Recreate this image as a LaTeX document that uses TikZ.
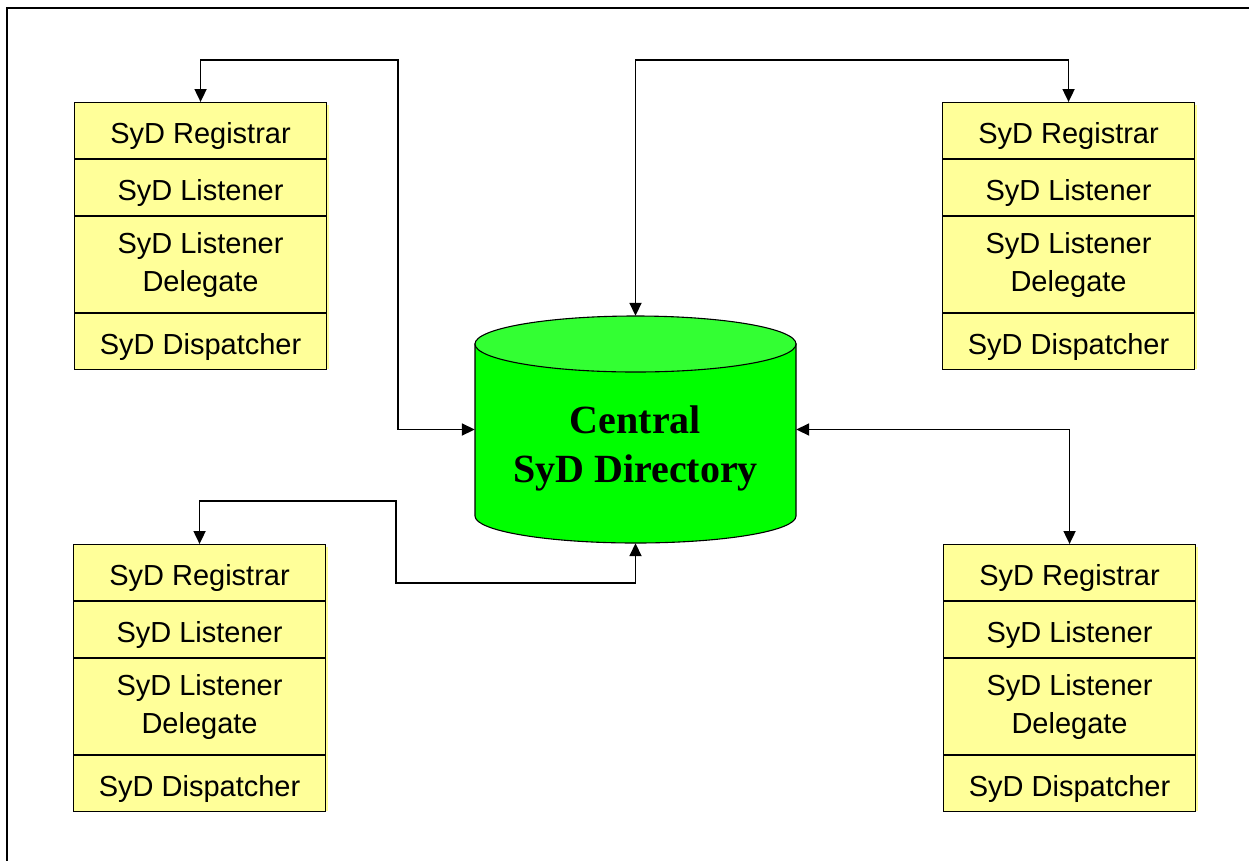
\documentclass[tikz,border=0pt]{standalone}
\usepackage{fontspec}
\setmainfont{Liberation Sans}
\newfontfamily\serifbold{Liberation Serif}
\usetikzlibrary{arrows.meta}
\definecolor{cellyellow}{HTML}{FFFF99}
\definecolor{dbside}{HTML}{00FF00}
\definecolor{dbtop}{HTML}{33FF33}
\tikzset{
  cell/.style={draw=black, line width=1.1pt, fill=cellyellow, minimum width=252pt,
    inner sep=0pt, align=center, font=\fontsize{29}{38}\selectfont},
  onecell/.style={cell, minimum height=56pt, text height=25pt, text depth=0pt},
  conn/.style={draw=black, line width=1.8pt, {Triangle[length=13pt,width=12pt]}-{Triangle[length=13pt,width=12pt]}},
  dbfont/.style={font=\serifbold\bfseries\fontsize{40}{48}\selectfont, inner sep=0pt},
  frame/.style={draw=black, line width=2pt}
}
\newcommand\sydstack[3]{%
  \fill[cellyellow] (#2+3,#3+3) rectangle (#2+255,#3+267);
  \node[onecell, anchor=north west] (#1reg) at (#2,#3) {SyD Registrar};
  \node[onecell, anchor=north] (#1lis) at (#1reg.south) {SyD Listener};
  \node[cell, minimum height=96pt, anchor=north, yshift=0pt] (#1del) at (#1lis.south) {SyD Listener\\Delegate};
  \node[onecell, anchor=north] (#1dis) at (#1del.south) {SyD Dispatcher};
}
\begin{document}
\begin{tikzpicture}[x=1pt,y=-1pt]
\useasboundingbox (0,0) rectangle (1249,860);
\fill[white] (0,0) rectangle (1249,860);
\draw[frame] (7,861) -- (7,8) -- (1250,8);

\sydstack{tl}{74}{102}
\sydstack{tr}{942}{102}
\sydstack{bl}{73}{544}
\sydstack{br}{943}{544}

% central directory (cylinder)
\node[minimum width=321pt, minimum height=227pt, inner sep=0pt] (db) at (635.5,429.5) {};
\filldraw[fill=dbside, draw=black, line width=1.1pt]
  (475,344) -- (475,516) arc[start angle=180, end angle=360, x radius=160.5pt, y radius=27pt]
  -- (796,344) -- cycle;
\filldraw[fill=dbtop, draw=black, line width=1.1pt] (635.5,344) ellipse [x radius=160.5pt, y radius=28pt];
\node[dbfont, anchor=base] (dbt1) at (635.5,433) {Central};
\node[dbfont, anchor=base] (dbt2) at (635.5,482) {SyD Directory};

% connectors
\coordinate (k1) at (398,60);
\coordinate (k2) at (635.5,60);
\coordinate (k4a) at (396,501);
\coordinate (k4b) at (396,583);
\draw[conn] (tlreg.north) |- (k1) |- (db.west);
\draw[conn] (db.north) -- (k2) -| (trreg.north);
\draw[conn] (db.east) -| (brreg.north);
\draw[conn] (blreg.north) |- (k4a) -- (k4b) -| (db.south);
\end{tikzpicture}
\end{document}
